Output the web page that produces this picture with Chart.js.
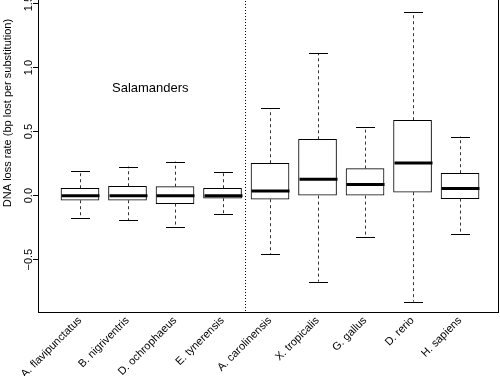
<!DOCTYPE html>
<html>
<head>
<meta charset="utf-8">
<script src="https://cdn.jsdelivr.net/npm/chart.js@4.4.1/dist/chart.umd.min.js"></script>
<style>
  html, body { margin: 0; padding: 0; background: #fff; overflow: hidden; }
  #wrap { position: absolute; left: 0; top: -100px; width: 500px; height: 476px; }
</style>
</head>
<body>
<div id="wrap"><canvas id="myChart" width="500" height="476"></canvas></div>
<script>
// species on the x axis
const categories = [
  'A. flavipunctatus', 'B. nigriventris', 'D. ochrophaeus', 'E. tynerensis',
  'A. carolinensis', 'X. tropicalis', 'G. gallus', 'D. rerio', 'H. sapiens'
];
// box plot stats
const whiskerLow  = [-0.177, -0.192, -0.247, -0.141, -0.458, -0.672, -0.325, -0.828, -0.302];
const q1          = [-0.036, -0.036, -0.062, -0.020, -0.028, 0.000, 0.000, 0.027, -0.023];
const median      = [0, 0, 0, 0, 0.037, 0.128, 0.086, 0.255, 0.055];
const q3          = [0.058, 0.073, 0.070, 0.058, 0.253, 0.440, 0.211, 0.589, 0.175];
const whiskerHigh = [0.193, 0.227, 0.266, 0.183, 0.683, 1.112, 0.534, 1.433, 0.461];
const yTicks = [-0.5, 0, 0.5, 1, 1.5];

const groupLabel = 'Salamanders';
const groupLabelAt = { x: 2.48, y: 0.834 };
const separatorAt = 4.48;

const FONT = 'Liberation Sans, Arial, sans-serif';

const boxExtras = {
  id: 'boxExtras',
  afterDatasetsDraw(chart) {
    const ctx = chart.ctx;
    const xs = chart.scales.x, ys = chart.scales.y;
    const area = chart.chartArea;
    ctx.save();
    categories.forEach((c, i) => {
      const cx = Math.round(xs.getPixelForValue(i + 1)) + 0.5;
      const capHalf = 9.5;
      // dashed whiskers
      ctx.strokeStyle = '#333';
      ctx.lineWidth = 1;
      ctx.setLineDash([3, 3]);
      ctx.beginPath();
      ctx.moveTo(cx, ys.getPixelForValue(q3[i]));
      ctx.lineTo(cx, ys.getPixelForValue(whiskerHigh[i]));
      ctx.moveTo(cx, ys.getPixelForValue(q1[i]));
      ctx.lineTo(cx, ys.getPixelForValue(whiskerLow[i]));
      ctx.stroke();
      // caps
      ctx.setLineDash([]);
      ctx.strokeStyle = '#000';
      ctx.beginPath();
      const hy = Math.round(ys.getPixelForValue(whiskerHigh[i])) + 0.5;
      const ly = Math.round(ys.getPixelForValue(whiskerLow[i])) + 0.5;
      ctx.moveTo(cx - capHalf, hy); ctx.lineTo(cx + capHalf, hy);
      ctx.moveTo(cx - capHalf, ly); ctx.lineTo(cx + capHalf, ly);
      ctx.stroke();
      // median
      ctx.lineWidth = 3;
      ctx.beginPath();
      const my = ys.getPixelForValue(median[i]);
      ctx.moveTo(cx - 19, my); ctx.lineTo(cx + 19, my);
      ctx.stroke();
    });
    // dotted separator
    ctx.lineWidth = 1;
    ctx.strokeStyle = '#000';
    ctx.setLineDash([1, 2]);
    const sx = Math.round(xs.getPixelForValue(separatorAt)) + 0.5;
    ctx.beginPath();
    ctx.moveTo(sx, area.top); ctx.lineTo(sx, area.bottom);
    ctx.stroke();
    ctx.setLineDash([]);
    // frame
    ctx.strokeRect(area.left + 0.5, area.top + 0.5, area.right - area.left - 1, area.bottom - area.top);
    // group label
    ctx.fillStyle = '#000';
    ctx.font = '13px ' + FONT;
    ctx.textAlign = 'center';
    ctx.textBaseline = 'middle';
    ctx.fillText(groupLabel, xs.getPixelForValue(groupLabelAt.x), ys.getPixelForValue(groupLabelAt.y));
    ctx.restore();
  }
};

function makeChart() {
  const ctx = document.getElementById('myChart');
  return new Chart(ctx, {
    type: 'bar',
    data: {
      datasets: [{
        data: categories.map((c, i) => ({ x: i + 1, y: [q1[i], q3[i]] })),
        backgroundColor: '#fff',
        borderColor: '#000',
        borderWidth: 1,
        borderSkipped: false,
        barThickness: 38
      }]
    },
    options: {
      responsive: false,
      animation: false,
      events: [],
      layout: { padding: { top: 14, right: 1, left: 0, bottom: 0 } },
      plugins: { legend: { display: false }, tooltip: { enabled: false } },
      scales: {
        x: {
          type: 'linear',
          offset: false,
          min: 0.116,
          max: 9.82,
          afterBuildTicks: (scale) => { scale.ticks = categories.map((c, i) => ({ value: i + 1 })); },
          afterFit: (scale) => { scale.height = 64; },
          grid: { display: false, drawTicks: false },
          border: { display: false },
          ticks: {
            autoSkip: false,
            minRotation: 45,
            maxRotation: 45,
            padding: 2,
            color: '#000',
            font: { family: FONT, size: 11 },
            callback: (v) => categories[v - 1]
          }
        },
        y: {
          min: -0.909,
          max: 2.2,
          afterBuildTicks: (scale) => { scale.ticks = yTicks.map((v) => ({ value: v })); },
          afterFit: (scale) => { scale.width = 38; },
          grid: { drawOnChartArea: false, tickLength: 5, color: '#000' },
          border: { display: false },
          ticks: {
            minRotation: 90,
            maxRotation: 90,
            crossAlign: 'center',
            padding: -7,
            color: '#000',
            font: { family: FONT, size: 11 },
            callback: (v) => v.toFixed(1).replace('-', '\u2212')
          },
          title: {
            display: true,
            text: 'DNA loss rate (bp lost per substitution)',
            color: '#000',
            font: { family: FONT, size: 11 },
            padding: { top: 1, bottom: 0 }
          }
        }
      }
    },
    plugins: [boxExtras]
  });
}

document.addEventListener('DOMContentLoaded', () => makeChart());
</script>
</body>
</html>
